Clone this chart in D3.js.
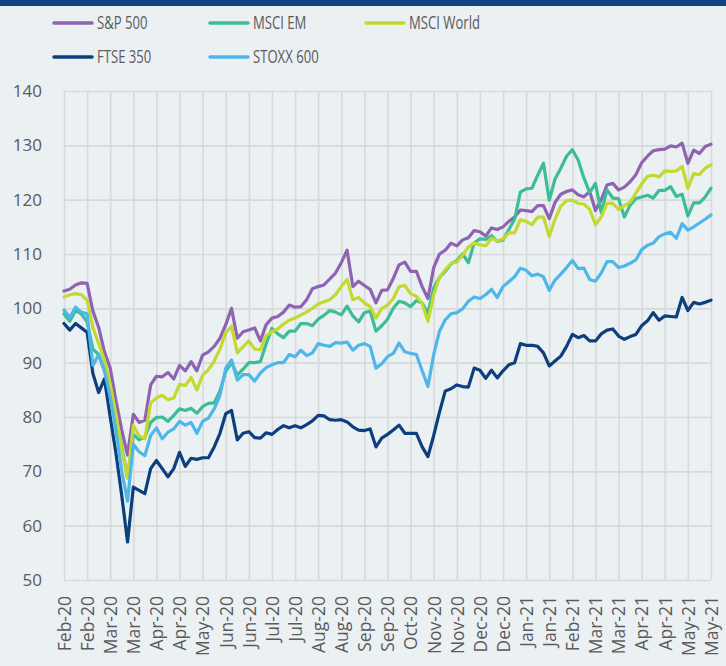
<!DOCTYPE html>
<html><head><meta charset="utf-8">
<script src="https://cdn.jsdelivr.net/npm/d3@7"></script>
<style>
html,body{margin:0;padding:0;background:#EBF0F3;}
svg{display:block;}
text{font-family:"Open Sans",sans-serif;fill:#5A5A5A;}
</style></head>
<body><svg id="c" width="726" height="666"></svg>
<script>
const xLabels = ["Feb-20","Feb-20","Mar-20","Mar-20","Apr-20","Apr-20","May-20","Jun-20","Jun-20","Jul-20","Jul-20","Aug-20","Aug-20","Sep-20","Sep-20","Oct-20","Nov-20","Nov-20","Dec-20","Dec-20","Jan-21","Jan-21","Feb-21","Mar-21","Mar-21","Apr-21","Apr-21","May-21","May-21"];
const yTicks = [50,60,70,80,90,100,110,120,130,140];
const seriesNames = ["S&P 500","MSCI EM","MSCI World","FTSE 350","STOXX 600"];
const seriesColors = ["#8E63B1","#3BBD95","#C3D92E","#0E3F7D","#4EB6E8"];

const sp500 = [103.2,103.5,104.3,104.7,104.6,99.5,96.5,92.0,89.0,83.0,77.6,73.0,80.5,79.0,79.4,85.9,87.5,87.4,88.2,87.0,89.5,88.5,90.2,88.5,91.4,92.0,93.0,94.5,97.0,100.0,94.5,95.7,96.0,96.4,94.0,97.0,98.2,98.5,99.3,100.6,100.2,100.3,101.6,103.6,104.0,104.3,105.4,106.5,108.4,110.7,104.0,105.0,104.2,103.5,101.0,103.3,103.4,105.5,108.0,108.5,106.8,106.8,104.0,101.8,107.5,110.0,110.7,112.0,111.5,112.6,113.0,114.3,114.1,113.3,114.8,114.5,115.0,116.0,116.8,118.1,118.0,117.8,118.9,118.9,116.5,119.5,121.0,121.5,121.8,120.9,120.5,121.5,118.0,120.0,122.7,123.0,121.8,122.3,123.3,124.6,126.8,128.0,129.0,129.2,129.3,129.9,129.7,130.4,126.7,129.1,128.5,129.8,130.2];
const msciEM = [99.0,97.6,99.6,99.0,97.5,92.5,91.5,88.5,85.0,80.0,74.5,68.8,76.8,75.8,76.3,79.0,79.9,80.0,79.2,80.3,81.5,81.2,81.6,80.7,81.9,82.5,82.6,84.8,88.4,90.0,87.7,88.8,90.0,90.0,90.2,93.5,96.3,95.3,94.6,95.8,95.8,97.2,97.2,96.8,98.0,98.7,99.6,99.3,98.8,100.4,98.6,97.5,99.2,99.5,95.8,96.8,98.0,100.0,101.3,101.0,100.3,101.4,101.0,99.1,103.8,105.7,106.8,108.2,108.8,110.0,108.4,112.0,112.8,112.7,113.4,112.3,112.6,114.5,116.4,121.4,122.0,122.1,124.5,126.7,119.9,123.8,125.8,128.0,129.2,127.3,124.0,121.3,123.0,117.6,121.8,120.3,120.2,116.8,119.0,120.2,120.5,120.8,120.3,121.7,121.7,122.4,120.6,121.0,117.0,119.4,119.4,120.5,122.1];
const msciWorld = [102.1,102.5,102.7,102.5,101.5,96.5,93.5,90.5,86.0,80.5,74.0,68.8,78.5,76.5,76.0,82.6,83.5,84.0,83.2,83.5,86.0,85.8,87.3,85.0,87.7,88.7,90.3,92.5,95.5,96.7,91.8,92.9,94.0,92.5,92.4,95.0,95.7,96.2,97.1,97.8,98.2,98.8,99.3,100.0,100.8,101.2,101.6,102.5,104.0,105.3,101.6,102.0,101.0,100.3,98.2,100.0,100.6,101.8,104.0,104.2,102.7,102.2,100.9,97.6,102.5,105.7,107.1,108.3,108.5,109.8,111.3,112.0,111.7,111.5,112.9,112.4,112.8,113.9,113.9,116.3,116.0,115.4,116.8,116.8,113.2,116.4,118.8,119.8,119.9,119.3,119.2,118.2,115.4,116.8,119.3,119.3,118.2,118.9,119.5,121.2,122.9,124.3,124.5,124.2,125.3,125.2,125.3,126.1,122.1,124.8,124.6,125.8,126.4];
const ftse350 = [97.2,96.0,97.2,96.4,95.6,88.0,84.5,87.0,80.0,73.3,65.5,57.0,67.1,66.5,65.9,70.5,72.0,70.5,69.0,70.5,73.5,70.9,72.4,72.2,72.5,72.5,74.5,77.0,80.6,81.2,75.8,77.0,77.3,76.2,76.1,77.1,76.8,77.7,78.4,78.0,78.4,78.0,78.6,79.3,80.3,80.2,79.5,79.4,79.5,79.1,78.2,77.6,77.5,77.8,74.5,76.1,76.8,77.6,78.5,77.0,77.0,77.0,74.5,72.7,76.6,80.9,84.8,85.2,85.9,85.6,85.5,89.0,88.6,87.1,88.6,87.2,88.5,89.6,90.0,93.5,93.2,93.2,93.0,91.8,89.4,90.3,91.2,93.0,95.2,94.6,95.0,94.0,94.0,95.3,96.0,96.2,94.9,94.3,94.8,95.2,96.8,97.7,99.2,97.8,98.6,98.5,98.4,102.0,99.6,101.1,100.8,101.1,101.5];
const stoxx600 = [99.7,98.3,100.2,99.3,99.0,89.5,91.5,88.5,83.7,77.5,70.0,64.5,75.0,73.6,72.9,76.6,78.0,76.0,77.2,77.8,79.2,78.5,79.0,77.0,79.2,79.8,81.5,84.0,89.0,90.5,86.8,87.8,87.8,86.6,88.1,89.1,89.6,90.0,90.0,91.5,91.1,92.3,91.3,91.8,93.5,93.2,93.0,93.7,93.6,93.8,92.3,93.2,93.5,93.0,89.0,89.8,91.1,91.7,93.6,92.0,91.7,91.5,88.5,85.6,91.5,95.8,97.9,99.0,99.2,99.9,101.3,102.1,101.8,102.5,103.5,102.0,104.0,104.9,105.8,107.4,107.0,106.0,106.3,105.8,103.3,105.2,106.3,107.5,108.8,107.3,107.4,105.3,105.0,106.5,108.6,108.6,107.5,107.8,108.3,108.9,110.8,111.6,112.0,113.2,113.7,114.0,112.9,115.6,114.4,115.0,115.7,116.4,117.2];

const seriesData = [sp500, msciEM, msciWorld, ftse350, stoxx600];

(function(){
const svg = d3.select("#c");
const W = 726, H = 666;
const pL = 64, pR = 711, pT = 91, pB = 580;
const nPts = sp500.length;
const perLabel = (nPts - 1) / (xLabels.length - 1);

svg.append("rect").attr("x",0).attr("y",0).attr("width",W).attr("height",H).attr("fill","#EBF0F3");
svg.append("rect").attr("x",0).attr("y",0).attr("width",W).attr("height",6).attr("fill","#0F4481");

const x = d3.scaleLinear().domain([0, nPts - 1]).range([pL, pR]);
const y = d3.scaleLinear().domain([50, 140]).range([pB, pT]);

const gy = svg.append("g").attr("transform", `translate(${pL},0)`)
  .call(d3.axisLeft(y).tickValues(yTicks).tickSize(-(pR-pL)).tickPadding(22).tickFormat(d3.format("d")));
gy.select(".domain").remove();
gy.selectAll(".tick line").attr("stroke","#D8D9DA").attr("stroke-width",1.6);
gy.selectAll(".tick text").attr("font-size","17px").attr("fill","#5A5A5A").style("font-family","'Open Sans',sans-serif");

const tickIdx = d3.range(0, xLabels.length).map(i => i * perLabel);
const gx = svg.append("g").attr("transform", `translate(0,${pB})`)
  .call(d3.axisBottom(x).tickValues(tickIdx).tickSize(-(pB-pT)).tickFormat((d,i) => xLabels[i]));
gx.select(".domain").remove();
gx.selectAll(".tick line").attr("stroke","#D8D9DA").attr("stroke-width",1.6);
gx.selectAll(".tick text")
  .attr("transform","rotate(-90)")
  .attr("text-anchor","end")
  .attr("x",-16).attr("y",0).attr("dy","0.36em")
  .attr("font-size","17.5px").attr("fill","#5A5A5A").style("font-family","'Open Sans',sans-serif");

const line = d3.line().x((d,i) => x(i)).y(d => y(d)).curve(d3.curveLinear);
seriesData.forEach((s, k) => {
  svg.append("path").datum(s)
    .attr("d", line)
    .attr("fill","none")
    .attr("stroke", seriesColors[k])
    .attr("stroke-width", 3.2)
    .attr("stroke-linejoin","round")
    .attr("stroke-linecap","round");
});

const legPos = [[54,23],[210,23],[366,23],[54,57],[210,57]];
seriesNames.forEach((n,k) => {
  const g = svg.append("g").attr("transform", `translate(${legPos[k][0]},${legPos[k][1]})`);
  g.append("line").attr("x1",0).attr("x2",38).attr("y1",0).attr("y2",0)
    .attr("stroke", seriesColors[k]).attr("stroke-width",3.5).attr("stroke-linecap","round");
  g.append("g").attr("transform","translate(43,0) scale(0.75,1)")
    .append("text").attr("x",0).attr("y",0).attr("dy","0.36em")
    .attr("font-size","17.5px").text(n);
});
})();
</script></body></html>
